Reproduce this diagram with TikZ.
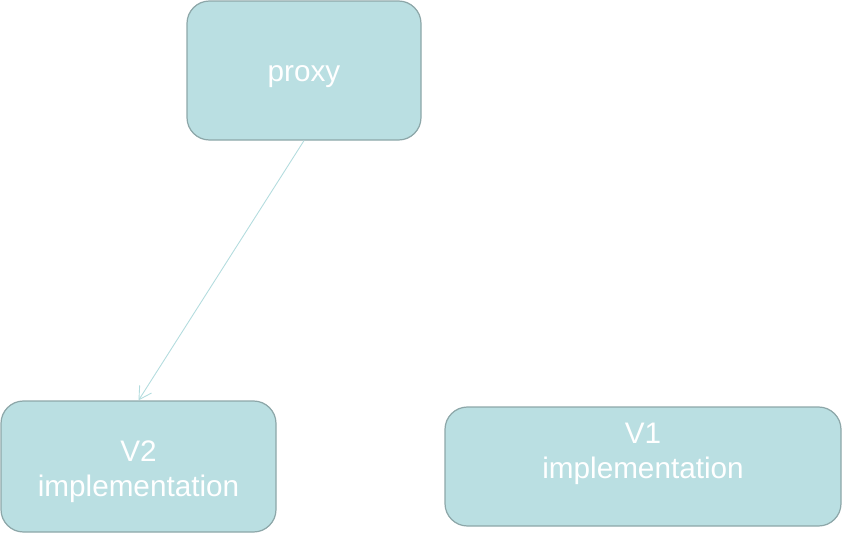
\documentclass[tikz,border=0pt]{standalone}
\usepackage{fontspec}
\setmainfont{Liberation Sans}
\usepackage{xcolor}
\usetikzlibrary{arrows.meta}
\definecolor{boxfill}{HTML}{BADFE2}
\definecolor{boxline}{HTML}{8DA7A9}
\definecolor{linkline}{HTML}{B3DCDE}

\begin{document}
\begin{tikzpicture}[x=0.02cm, y=-0.02cm,
    implbox/.style={draw=boxline, fill=boxfill, line width=0.7pt, rounded corners=0.45cm, inner sep=0pt},
    boxtext/.style={text=white, align=center, inner sep=0pt, font=\fontsize{16.9}{20}\selectfont}]
        \useasboundingbox (0,0) rectangle (842,534);
        % proxy on top, two implementations below
        \node[implbox, minimum width=234*0.02cm, minimum height=139*0.02cm,
          label={[boxtext, yshift=-0.12cm]center:proxy}] (proxy) at (304,70.5) {};
        \node[implbox, minimum width=275*0.02cm, minimum height=131*0.02cm,
          label={[boxtext, yshift=-0.1cm]center:V2\\implementation}] (v2) at (138.5,466.5) {};
        \node[implbox, minimum width=396*0.02cm, minimum height=119*0.02cm,
          label={[boxtext, yshift=0.26cm]center:V1\\implementation}] (v1) at (643,466.5) {};
        \draw[linkline, line width=0.5pt, -{Straight Barb[length=7pt, width=8pt]}] (proxy.south) -- (v2.north);
    \end{tikzpicture}
\end{document}
